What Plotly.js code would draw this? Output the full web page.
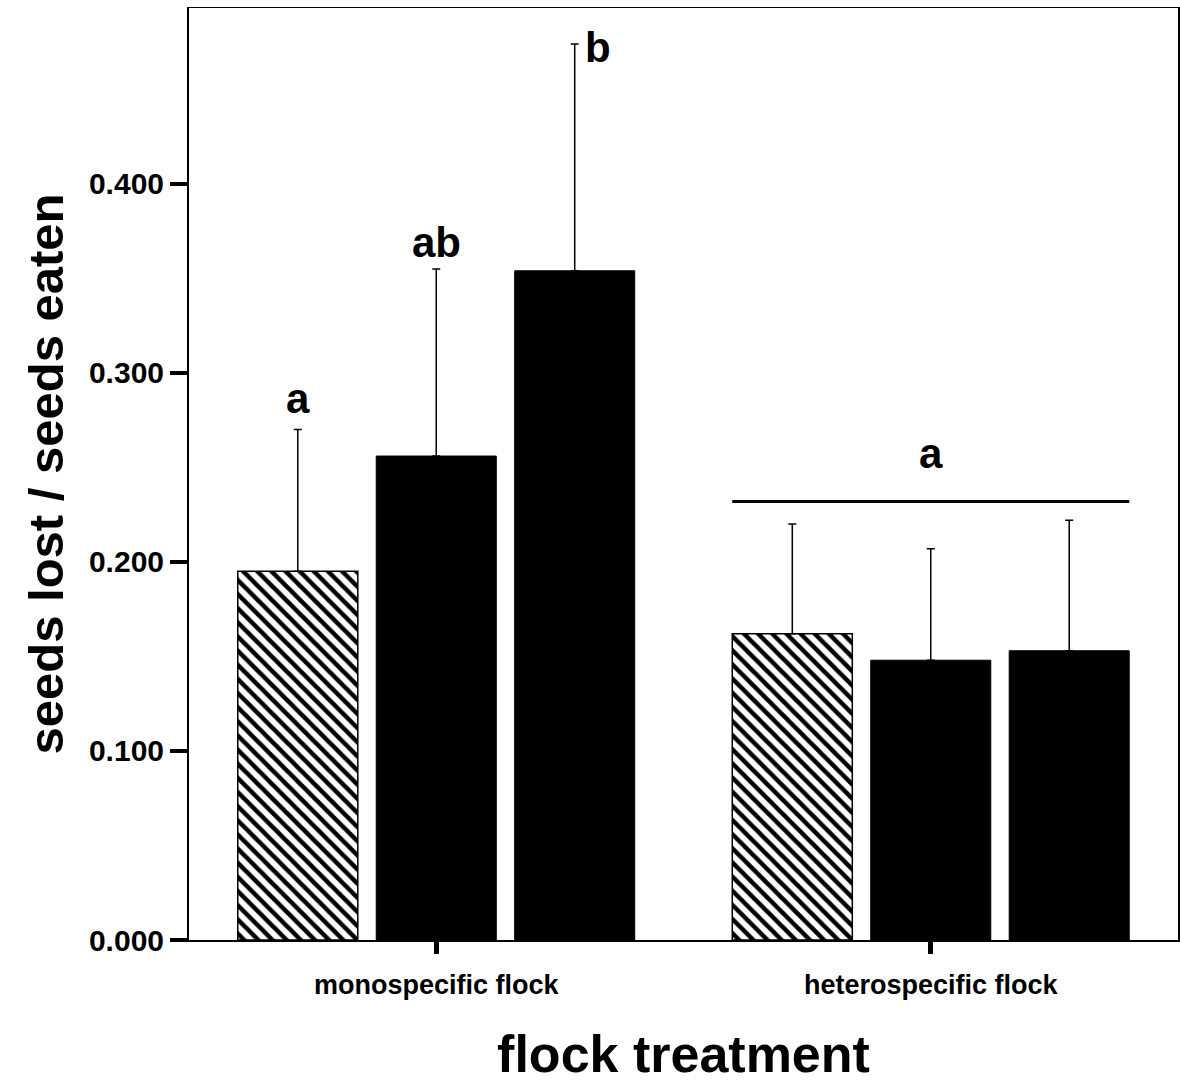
<!DOCTYPE html>
<html>
<head>
<meta charset="utf-8">
<script src="https://cdn.plot.ly/plotly-3.0.1.min.js"></script>
<style>html,body{margin:0;padding:0;background:#fff;}#chart{width:1180px;height:1083px;}</style>
</head>
<body>
<div id="chart"></div>
<script>
// ---- data ----
const categories = ["monospecific flock", "heterospecific flock"];
const seriesHatched = [0.195, 0.162];
const errHatched    = [0.075, 0.058];
const seriesDark1   = [0.256, 0.148];
const errDark1      = [0.099, 0.059];
const seriesDark2   = [0.354, 0.153];
const errDark2      = [0.120, 0.069];
const monoLetters   = ["a", "ab", "b"];
const heteroLetter  = "a";
const heteroLineY   = 0.232;
const yTicks        = [0, 0.1, 0.2, 0.3, 0.4];

// ---- layout constants ----
const FONT = "Liberation Sans, Arial, Helvetica, sans-serif";
const bargap = 0.16, bargroupgap = 0.133;
const slot = (1 - bargap) / 3;
const barW = slot * (1 - bargroupgap);
const letterShift = [6, 1, -4];

function errBar(arr) {
  return {type: "data", symmetric: false, array: arr, arrayminus: arr.map(() => 0),
          color: "#000", thickness: 1.5, width: 4, visible: true};
}

const traces = [
  {type: "bar", x: categories, y: seriesHatched, error_y: errBar(errHatched),
   marker: {color: "#fff", line: {color: "#000", width: 1.5},
            pattern: {shape: "\\", fgcolor: "#000", bgcolor: "#fff", size: 10, solidity: 0.45}},
   showlegend: false},
  {type: "bar", x: categories, y: seriesDark1, error_y: errBar(errDark1),
   marker: {color: "#000", line: {color: "#000", width: 1}}, showlegend: false},
  {type: "bar", x: categories, y: seriesDark2, error_y: errBar(errDark2),
   marker: {color: "#000", line: {color: "#000", width: 1}}, showlegend: false}
];

const monoVals = [seriesHatched[0] + errHatched[0], seriesDark1[0] + errDark1[0], seriesDark2[0] + errDark2[0]];
const annotations = monoLetters.map((t, i) => {
  const isTop = i === 2;
  return {
    x: 0 + (i - 1) * slot, y: monoVals[i], xref: "x", yref: "y",
    text: t, showarrow: false,
    xanchor: isTop ? "left" : "center", yanchor: isTop ? "middle" : "bottom",
    xshift: isTop ? 8 : 0, yshift: letterShift[i],
    font: {family: FONT, size: 42, color: "#000", weight: "bold"}
  };
});
annotations.push({
  x: 1, y: heteroLineY, xref: "x", yref: "y", text: heteroLetter, showarrow: false,
  xanchor: "center", yanchor: "bottom", yshift: 22,
  font: {family: FONT, size: 42, color: "#000", weight: "bold"}
});

const layout = {
  width: 1180, height: 1083,
  margin: {l: 189, r: 2, t: 8, b: 143, pad: 0},
  paper_bgcolor: "#fff", plot_bgcolor: "#fff",
  barmode: "group", bargap: bargap, bargroupgap: bargroupgap,
  font: {family: FONT, color: "#000"},
  xaxis: {
    type: "category", range: [-0.5, 1.5],
    showline: true, linecolor: "#000", linewidth: 1.5, mirror: true,
    ticks: "outside", ticklen: 12, tickwidth: 5, tickcolor: "#000",
    ticklabelstandoff: 8,
    showgrid: false, zeroline: false,
    tickfont: {family: FONT, size: 27, color: "#000", weight: "bold"},
    title: {text: "flock treatment", font: {family: FONT, size: 52, color: "#000", weight: "bold"}, standoff: 40}
  },
  yaxis: {
    range: [0, 0.493], tickvals: yTicks, tickformat: ".3f",
    showline: true, linecolor: "#000", linewidth: 2, mirror: true,
    ticks: "outside", ticklen: 17, tickwidth: 4, tickcolor: "#000",
    showgrid: false, zeroline: false,
    tickfont: {family: FONT, size: 30, color: "#000", weight: "bold"},
    title: {text: "seeds lost / seeds eaten", font: {family: FONT, size: 49, color: "#000", weight: "bold"}, standoff: 10}
  },
  annotations: annotations,
  shapes: [{
    type: "line", xref: "x", yref: "y",
    x0: 1 - slot - barW / 2, x1: 1 + slot + barW / 2, y0: heteroLineY, y1: heteroLineY,
    line: {color: "#000", width: 3}
  }]
};

Plotly.newPlot("chart", traces, layout, {displayModeBar: false, staticPlot: true});
</script>
</body>
</html>
